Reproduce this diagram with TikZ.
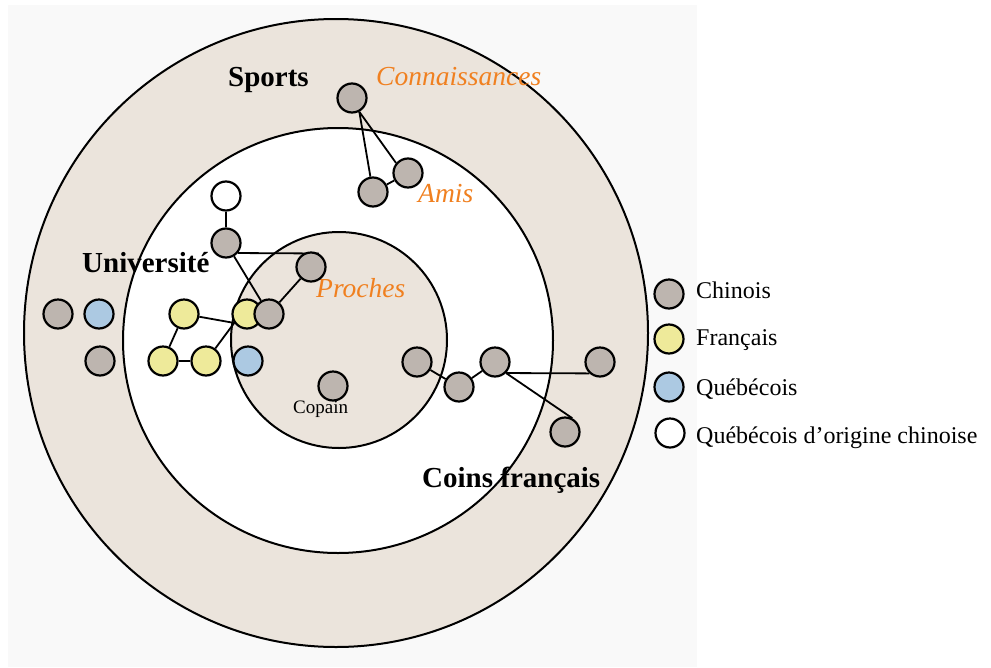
\documentclass[tikz,border=0pt]{standalone}
\usepackage{fontspec}
\setmainfont{Liberation Serif}
\pgfdeclarelayer{back}
\pgfdeclarelayer{edges}
\pgfsetlayers{back,edges,main}
\definecolor{beige}{RGB}{235,228,220}
\definecolor{bgray}{RGB}{249,249,249}
\definecolor{cgray}{RGB}{189,181,175}
\definecolor{cyellow}{RGB}{238,234,154}
\definecolor{cblue}{RGB}{172,201,226}
\definecolor{corange}{RGB}{240,128,32}
\begin{document}
\begin{tikzpicture}[x=1pt,y=-1pt,
  pnode/.style={circle,draw=black,line width=2.2pt,minimum size=29pt,inner sep=0pt},
  chin/.style={pnode,fill=cgray},
  fra/.style={pnode,fill=cyellow},
  queb/.style={pnode,fill=cblue},
  qchin/.style={pnode,fill=white},
  link/.style={line width=1.8pt},
  ring/.style={line width=2pt,draw=black},
  blbl/.style={font=\fontsize{29}{30}\selectfont\bfseries,anchor=base west,inner sep=0pt},
  ilbl/.style={font=\fontsize{27.5}{29}\selectfont\itshape,text=corange,anchor=base west,inner sep=0pt},
  leg/.style={font=\fontsize{24}{26}\selectfont,anchor=base west,inner sep=0pt}]
\useasboundingbox (0,0) rectangle (991,667);
\begin{pgfonlayer}{back}
  \fill[white] (0,0) rectangle (991,667);
  \fill[bgray] (8,5) rectangle (697,667);
  \draw[ring,fill=beige] (336,333) ellipse [x radius=312,y radius=314];
  \draw[ring,fill=white] (338,340.5) ellipse [x radius=215,y radius=212.5];
  \draw[ring,fill=beige] (339,340) circle [radius=108];
\end{pgfonlayer}

% labels
\node[blbl] (sports) at (228,86) {Sports};
\node[ilbl] (conn) at (376,85) {Connaissances};
\node[ilbl] (amis) at (418,202) {Amis};
\node[ilbl] (proches) at (316,297) {Proches};
\node[blbl] (univ) at (82,272) {Université};
\node[blbl] (coins) at (422,487) {Coins français};
\node[font=\fontsize{19}{20}\selectfont,anchor=base west,inner sep=0pt] (copl) at (293,413) {Copain};

% people
\node[chin] (c) at (352,98) {};
\node[chin] (a1) at (373,192) {};
\node[chin] (a2) at (408,173) {};
\node[qchin] (w) at (226,196) {};
\node[chin] (ug) at (226,243) {};
\node[chin] (pr) at (311,267) {};
\node[fra] (y2) at (247,314) {};
\node[chin] (g2) at (269,314) {};
\node[fra] (y1) at (184,314) {};
\node[fra] (y3) at (163,361) {};
\node[fra] (y4) at (206,361) {};
\node[queb] (b2) at (248,361) {};
\node[chin] (lg1) at (58,314) {};
\node[queb] (lb) at (99,314) {};
\node[chin] (lg2) at (100,361) {};
\node[chin] (cop) at (333,386) {};
\node[chin] (r1) at (417,362) {};
\node[chin] (r2) at (459,387) {};
\node[chin] (r3) at (495,362) {};
\node[chin] (r4) at (600,362) {};
\node[chin] (r5) at (565,432) {};

% connectors
\begin{pgfonlayer}{edges}
  \draw[link] (c.-62) -- (a1);
  \draw[link] (c.-62) -- (a2.140);
  \draw[link] (a1) -- (a2);
  \draw[link] (w) -- (ug);
  \draw[link] (ug.-40) -- (pr.60);
  \draw[link] (ug) -- (g2);
  \draw[link] (pr) -- (g2);
  \draw[link] (y1) -- (y2.215);
  \draw[link] (y4) -- (y2.215);
  \draw[link] (y1) -- (y3);
  \draw[link] (y3) -- (y4);
  \draw[link] (r1) -- (r2);
  \draw[link] (r2) -- (r3);
  \draw[link] (r3.-45) -- (r4.-133);
  \draw[link] (r3.-45) -- (r5.62);
\end{pgfonlayer}

% legend
\node[chin] (k1) at (669,294) {};
\node[fra] (k2) at (669,339) {};
\node[queb] (k3) at (669,387) {};
\node[qchin] (k4) at (670,433) {};
\node[leg] (t1) at (696,298) {Chinois};
\node[leg] (t2) at (696,345) {Français};
\node[leg] (t3) at (696,395) {Québécois};
\node[leg] (t4) at (696,443) {Québécois d’origine chinoise};
\end{tikzpicture}
\end{document}
